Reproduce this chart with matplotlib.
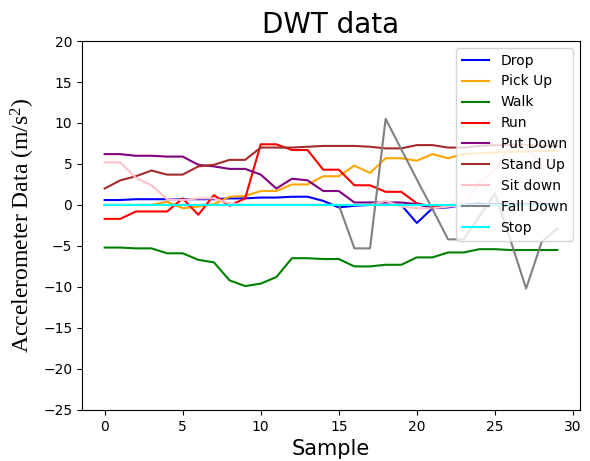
import matplotlib
matplotlib.use("Agg")
import matplotlib.pyplot as plt
import numpy as np

samples = list(range(30))

drop = [0.6, 0.6, 0.7, 0.7, 0.7, 0.7, 0.7, 0.7, 0.8, 0.8, 0.9, 0.9, 1.0, 1.0, 0.5,
        -0.3, -0.1, 0.0, 0.0, 0.0, -2.2, -0.4, -0.3, 0.0, 0.2, 0.0, 0.0, 0.0, 0.0, 0.0]
pick_up = [0.0, 0.0, 0.0, 0.0, 0.4, -0.4, -0.2, 0.1, 1.0, 1.1, 1.7, 1.7, 2.5, 2.5, 3.5,
           3.5, 4.8, 3.9, 5.7, 5.7, 5.4, 6.2, 5.7, 6.2, 6.3, 6.4, 6.5, 6.5, 6.6, 6.6]
walk = [-5.2, -5.2, -5.3, -5.3, -5.9, -5.9, -6.7, -7.0, -9.2, -9.9, -9.6, -8.8, -6.5, -6.5, -6.6,
        -6.6, -7.5, -7.5, -7.3, -7.3, -6.4, -6.4, -5.8, -5.8, -5.4, -5.4, -5.5, -5.5, -5.5, -5.5]
run = [-1.7, -1.7, -0.8, -0.8, -0.8, 0.8, -1.2, 1.2, -0.1, 0.8, 7.4, 7.4, 6.7, 6.7, 4.3,
       4.3, 2.4, 2.4, 1.6, 1.6, 0.2, -0.2, 0.0, 0.0, 0.0, 0.0, 0.0, 0.0, 0.0, 0.0]
put_down = [6.2, 6.2, 6.0, 6.0, 5.9, 5.9, 4.9, 4.7, 4.4, 4.4, 3.7, 2.0, 3.2, 3.0, 1.7,
            1.7, 0.3, 0.3, 0.3, 0.3, 0.1, -0.4, -0.2, 0.1, 0.1, 0.1, 0.1, 0.1, 0.1, 0.1]
stand_up = [2.0, 3.0, 3.5, 4.2, 3.7, 3.7, 4.7, 4.9, 5.5, 5.5, 7.0, 7.0, 7.0, 7.1, 7.2,
            7.2, 7.2, 7.1, 6.9, 6.9, 7.3, 7.3, 7.0, 7.0, 7.2, 7.3, 7.3, 7.3, 7.2, 7.2]
sit_down = [5.2, 5.2, 3.3, 2.4, 0.7, 0.6, 0.8, 0.8, 0.2, 0.0, 0.0, 0.0, 0.0, 0.0, 0.0,
            0.0, 0.0, 0.0, 0.5, -0.2, -0.4, -0.4, -0.2, 0.0, 2.7, 4.3, 7.2, 7.2, 4.8, 4.8]
fall_down = [0.0, 0.0, 0.0, 0.0, 0.0, 0.0, 0.0, 0.0, 0.0, 0.0, 0.0, 0.0, 0.0, 0.0, 0.0,
             0.0, -5.3, -5.3, 10.5, 6.8, 3.1, -0.5, -4.2, -4.2, -1.4, 1.4, -4.3, -10.2, -4.5, -2.9]
stop = [0.05] * 30

labels = ["Drop", "Pick Up", "Walk", "Run", "Put Down", "Stand Up", "Sit down", "Fall Down", "Stop"]
colors = ["blue", "orange", "green", "red", "purple", "brown", "pink", "gray", "cyan"]
series = [drop, pick_up, walk, run, put_down, stand_up, sit_down, fall_down, stop]

plt.rcParams["mathtext.fontset"] = "custom"
plt.rcParams["mathtext.rm"] = "Liberation Serif"
plt.rcParams["mathtext.it"] = "Liberation Serif:italic"

fig = plt.figure(figsize=(5.9, 4.61), dpi=100)
ax = fig.add_axes([0.139, 0.111, 0.844, 0.800])
for s, lab, c in zip(series, labels, colors):
    ax.plot(samples, s, color=c, label=lab, linewidth=1.5)

ax.set_ylim(-25, 20)
ax.set_yticks(np.arange(-25, 21, 5))
ax.set_xticks(np.arange(0, 31, 5))
ax.set_title("DWT data", fontsize=20)
ax.set_xlabel("Sample", fontsize=15)
ax.set_ylabel(r"Accelerometer Data (m/s$^2$)", fontsize=17, family="Liberation Serif")
ax.legend(loc="upper right", fontsize=10)

fig.savefig("out.png", dpi=100)
